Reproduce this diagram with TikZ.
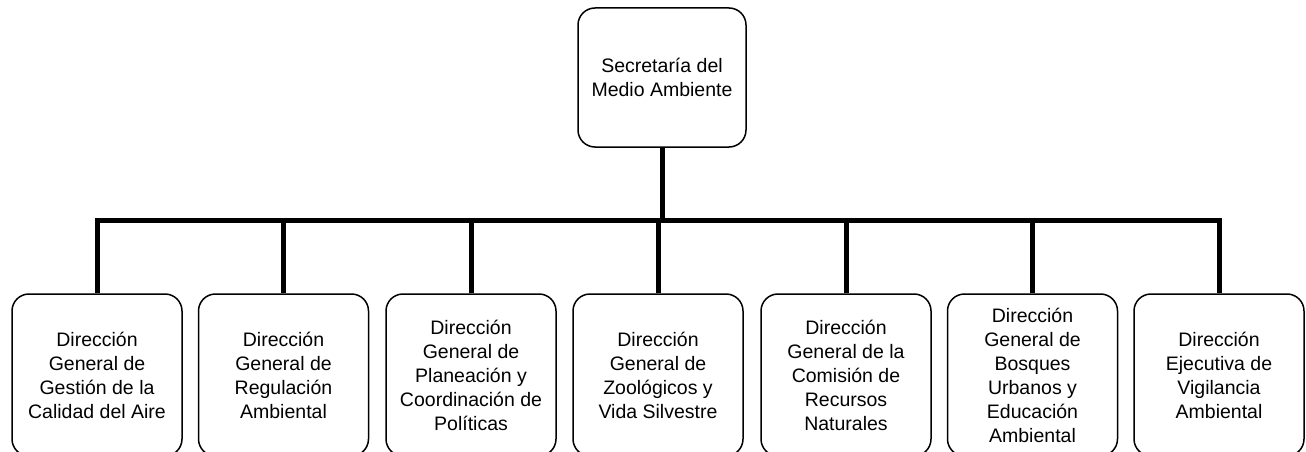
\documentclass[tikz,border=0pt]{standalone}
\usepackage{fontspec}
\setmainfont{Liberation Sans}
\begin{document}
\begin{tikzpicture}[x=1pt,y=-1pt,
  box/.style={draw=black, line width=1.5pt, rounded corners=17pt, fill=white,
    minimum width=170pt, minimum height=162pt, align=center, inner sep=1pt,
    font=\fontsize{19.5pt}{24pt}\selectfont},
  topbox/.style={box, minimum width=168pt, minimum height=139pt},
  conn/.style={line width=5pt, line join=miter}]
\useasboundingbox (0,0) rectangle (1306,452);
\node[topbox] (top) at (662,77.5) {Secretaría del\\Medio Ambiente};
\node[box] (b1) at (97,375) {Dirección\\General de\\Gestión de la\\Calidad del Aire};
\node[box] (b2) at (283.5,375) {Dirección\\General de\\Regulación\\Ambiental};
\node[box] (b3) at (471,375) {Dirección\\General de\\Planeación y\\Coordinación de\\Políticas};
\node[box] (b4) at (658,375) {Dirección\\General de\\Zoológicos y\\Vida Silvestre};
\node[box] (b5) at (846,375) {Dirección\\General de la\\Comisión de\\Recursos\\Naturales};
\node[box] (b6) at (1032.5,375) {Dirección\\General de\\Bosques\\Urbanos y\\Educación\\Ambiental};
\node[box] (b7) at (1219,375) {Dirección\\Ejecutiva de\\Vigilancia\\Ambiental};
\coordinate (bus) at (0,220);
\draw[conn] (b1.north) -- (b1.north |- bus) -- (b7.north |- bus) -- (b7.north);
\draw[conn] (top.south) -- (top.south |- bus);
\foreach \n in {b2,b3,b4,b5,b6}
  \draw[conn] (\n.north) -- (\n.north |- bus);
\end{tikzpicture}
\end{document}
